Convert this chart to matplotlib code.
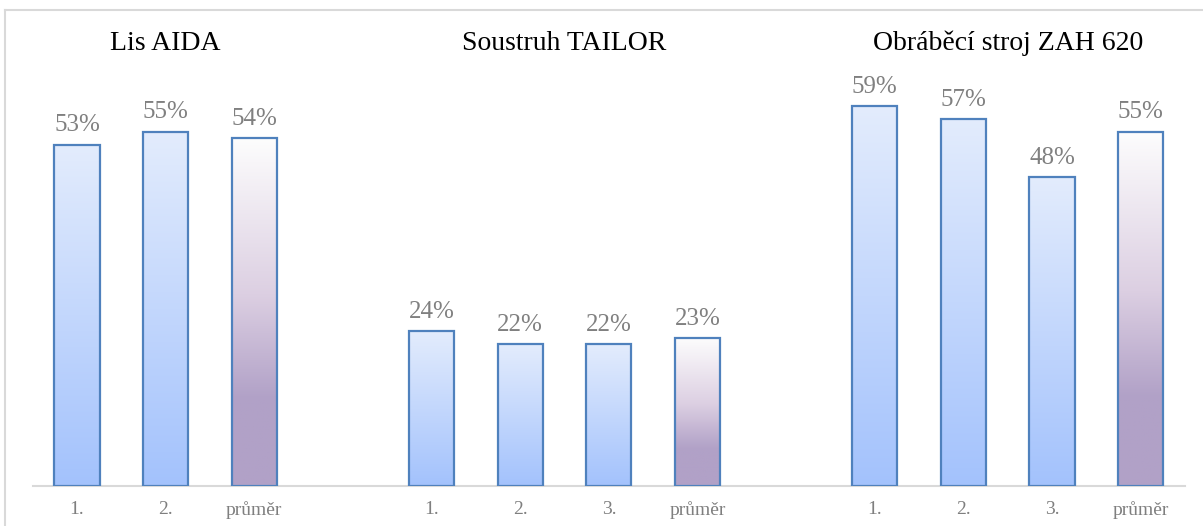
import numpy as np
import matplotlib.pyplot as plt
from matplotlib.colors import LinearSegmentedColormap
from matplotlib.patches import Rectangle
from matplotlib.lines import Line2D

# data (None = empty slot between groups)
labels = ['1.', '2.', 'průměr', '',
          '1.', '2.', '3.', 'průměr', '',
          '1.', '2.', '3.', 'průměr']
values = [0.53, 0.55, 0.54, None,
          0.24, 0.22, 0.22, 0.23, None,
          0.59, 0.57, 0.48, 0.55]
groups = ['Lis AIDA', 'Soustruh TAILOR', 'Obráběcí stroj ZAH 620']
group_slots = [[0, 1, 2], [4, 5, 6, 7], [9, 10, 11, 12]]

SERIF = ['Liberation Serif', 'DejaVu Serif']

blue_cmap = LinearSegmentedColormap.from_list('b', ['#A3C2FC', '#E3ECFD'])
purple_cmap = LinearSegmentedColormap.from_list(
    'p', [(0.0, '#B1A1C7'), (0.25, '#B1A1C7'), (0.55, '#DCCFE2'), (1.0, '#FDFDFD')])

W, H = 1203, 526
fig = plt.figure(figsize=(W / 100, H / 100), dpi=100)

# chart border (cropped at right/bottom)
fig.add_artist(Line2D([5 / W, 1], [1 - 10 / H, 1 - 10 / H], color='#D9D9D9', lw=1.5))
fig.add_artist(Line2D([5 / W, 5 / W], [0, 1 - 10 / H], color='#D9D9D9', lw=1.5))

ymax = 0.72
px_per_unit = 644
left, right = 32.7, 1185.0
base = 486
ax = fig.add_axes([left / W, (H - base) / H, (right - left) / W, ymax * px_per_unit / H])
ax.set_xlim(-0.5, len(labels) - 0.5)
ax.set_ylim(0, ymax)

grad = np.linspace(0, 1, 256).reshape(-1, 1)
bw = 0.51
for i, v in enumerate(values):
    if v is None:
        continue
    cmap = purple_cmap if labels[i] == 'průměr' else blue_cmap
    x0 = i - bw / 2
    ax.imshow(grad, cmap=cmap, origin='lower', aspect='auto',
              extent=(x0, x0 + bw, 0, v), zorder=2)
    ax.add_patch(Rectangle((x0, 0), bw, v, fill=False, edgecolor='#4F81BD',
                           lw=1.6, zorder=3))
    ax.annotate(f'{round(v * 100)}%', (i, v), xytext=(0, 6), textcoords='offset points',
                ha='center', va='bottom', fontsize=18, color='#808080',
                family=SERIF)

# group titles
for name, slots in zip(groups, group_slots):
    ax.annotate(name, (np.mean(slots), 1 - 43 / H),
                xycoords=('data', 'figure fraction'),
                ha='center', va='center', fontsize=20, color='black', family=SERIF)

ax.set_xticks(range(len(labels)))
ax.set_xticklabels(labels, family=SERIF, fontsize=14, color='#7F7F7F')
ax.tick_params(axis='x', length=0, pad=11)
ax.set_yticks([])
for s in ['top', 'right', 'left']:
    ax.spines[s].set_visible(False)
ax.spines['bottom'].set_color('#D9D9D9')
ax.spines['bottom'].set_linewidth(1.5)
ax.set_facecolor('none')

fig.savefig('out.png', dpi=100)
